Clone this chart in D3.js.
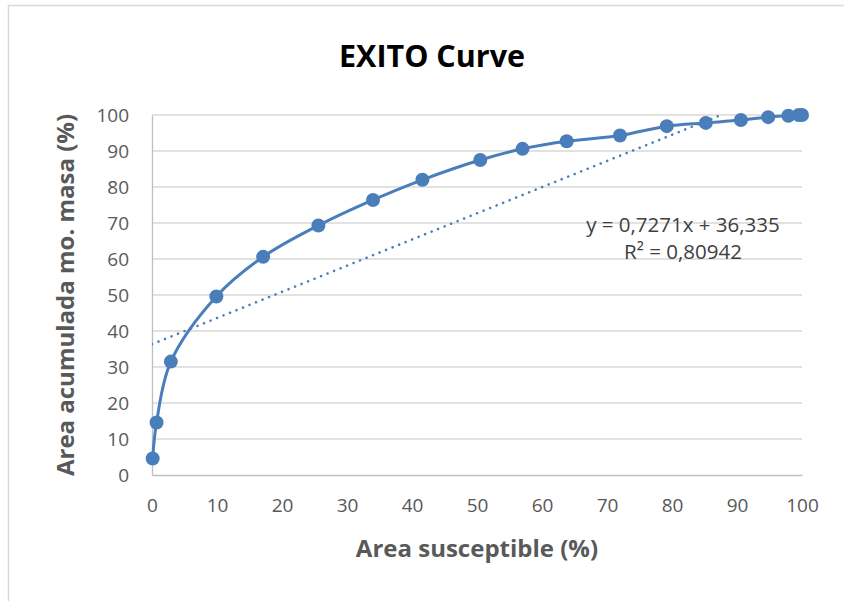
<!DOCTYPE html>
<html>
<head>
<meta charset="utf-8">
<script src="https://cdn.jsdelivr.net/npm/d3@7"></script>
<style>
  body { margin: 0; background: #fff; overflow: hidden; }
  text { font-family: "Open Sans", "Noto Sans", sans-serif; }
</style>
</head>
<body>
<div id="chart"></div>
<script>
// values
var areaX = [0.1, 0.7, 2.9, 9.9, 17.1, 25.6, 34.0, 41.6, 50.5, 57.0, 63.8, 72.0, 79.2, 85.2, 90.6, 94.8, 97.9, 99.5, 100];
var massY = [4.6, 14.6, 31.5, 49.6, 60.6, 69.3, 76.4, 82.0, 87.5, 90.6, 92.7, 94.3, 96.9, 97.8, 98.6, 99.4, 99.8, 100, 100];
var xTicks = [0, 10, 20, 30, 40, 50, 60, 70, 80, 90, 100];
var yTicks = [0, 10, 20, 30, 40, 50, 60, 70, 80, 90, 100];
var trendSlope = 0.7271, trendIntercept = 36.335;
var trendLabels = ["y = 0,7271x + 36,335", "R² = 0,80942"];

var width = 844, height = 601,
margin = {left: 152, right: 42, top: 115, bottom: 126},
blue = "#4a7ebb";

var svg = d3.select("#chart").append("svg")
  .attr("width", width)
  .attr("height", height)
  .style("display", "block");

// chart frame (only left and top edges fall inside the picture)
svg.append("path")
  .attr("d", "M8.5," + height + "V5.5H" + width)
  .attr("fill", "none").attr("stroke", "#d9d9d9").attr("stroke-width", 1.5);

var x = d3.scaleLinear().domain([0, 100]).range([margin.left, width - margin.right]);
var y = d3.scaleLinear().domain([0, 100]).range([height - margin.bottom, margin.top]);

// gridlines
svg.append("g")
  .selectAll("line")
  .data(yTicks.slice(1))
  .enter().append("line")
  .attr("x1", x(0)).attr("x2", x(100))
  .attr("y1", function(d){ return y(d); })
  .attr("y2", function(d){ return y(d); })
  .attr("stroke", "#d9d9d9").attr("stroke-width", 1.3);

// axes
var xAxis = svg.append("g")
  .attr("transform", "translate(0," + y(0) + ")")
  .call(d3.axisBottom(x).tickValues(xTicks).tickSize(0).tickPadding(24));
var yAxis = svg.append("g")
  .attr("transform", "translate(" + x(0) + ",0)")
  .call(d3.axisLeft(y).tickValues(yTicks).tickSize(0).tickPadding(23));

[xAxis, yAxis].forEach(function(a){
  a.select(".domain").attr("stroke", "#bfbfbf").attr("stroke-width", 1.3);
  a.selectAll("text")
    .attr("fill", "#595959")
    .style("font-size", "19px");
});
yAxis.selectAll("text").attr("dy", "0.35em");

// trendline, clipped to the plot area
svg.append("clipPath").attr("id", "plot")
  .append("rect")
  .attr("x", x(0)).attr("y", y(100))
  .attr("width", x(100) - x(0)).attr("height", y(0) - y(100));

svg.append("line")
  .attr("clip-path", "url(#plot)")
  .attr("x1", x(0)).attr("y1", y(trendIntercept))
  .attr("x2", x(100)).attr("y2", y(trendSlope * 100 + trendIntercept))
  .attr("stroke", blue).attr("stroke-width", 2.6)
  .attr("stroke-linecap", "round")
  .attr("stroke-dasharray", "0.01 7");

// smoothed series line
var pts = areaX.map(function(d, i){ return [d, massY[i]]; });
var line = d3.line()
  .x(function(d){ return x(d[0]); })
  .y(function(d){ return y(d[1]); })
  .curve(d3.curveCatmullRom.alpha(0.5));

svg.append("path")
  .datum(pts)
  .attr("d", line)
  .attr("fill", "none")
  .attr("stroke", blue)
  .attr("stroke-width", 3);

svg.append("g")
  .selectAll("circle")
  .data(pts)
  .enter().append("circle")
  .attr("cx", function(d){ return x(d[0]); })
  .attr("cy", function(d){ return y(d[1]); })
  .attr("r", 7)
  .attr("fill", blue);

// trendline label
svg.append("text")
  .attr("text-anchor", "middle")
  .attr("fill", "#404040")
  .style("font-size", "20.5px")
  .selectAll("tspan")
  .data(trendLabels)
  .enter().append("tspan")
  .attr("x", 683)
  .attr("y", function(d, i){ return 232 + i * 27; })
  .text(function(d){ return d; });

// titles
svg.append("text")
  .attr("x", 432).attr("y", 67)
  .attr("text-anchor", "middle")
  .attr("fill", "#000")
  .style("font-size", "30.5px").style("font-weight", "bold")
  .text("EXITO Curve");

svg.append("text")
  .attr("x", x(50)).attr("y", 557)
  .attr("text-anchor", "middle")
  .attr("fill", "#595959")
  .style("font-size", "24px").style("font-weight", "bold")
  .text("Area susceptible (%)");

svg.append("text")
  .attr("transform", "translate(74," + y(50) + ") rotate(-90)")
  .attr("text-anchor", "middle")
  .attr("fill", "#595959")
  .style("font-size", "24px").style("font-weight", "bold")
  .text("Area acumulada mo. masa (%)");
</script>
</body>
</html>
